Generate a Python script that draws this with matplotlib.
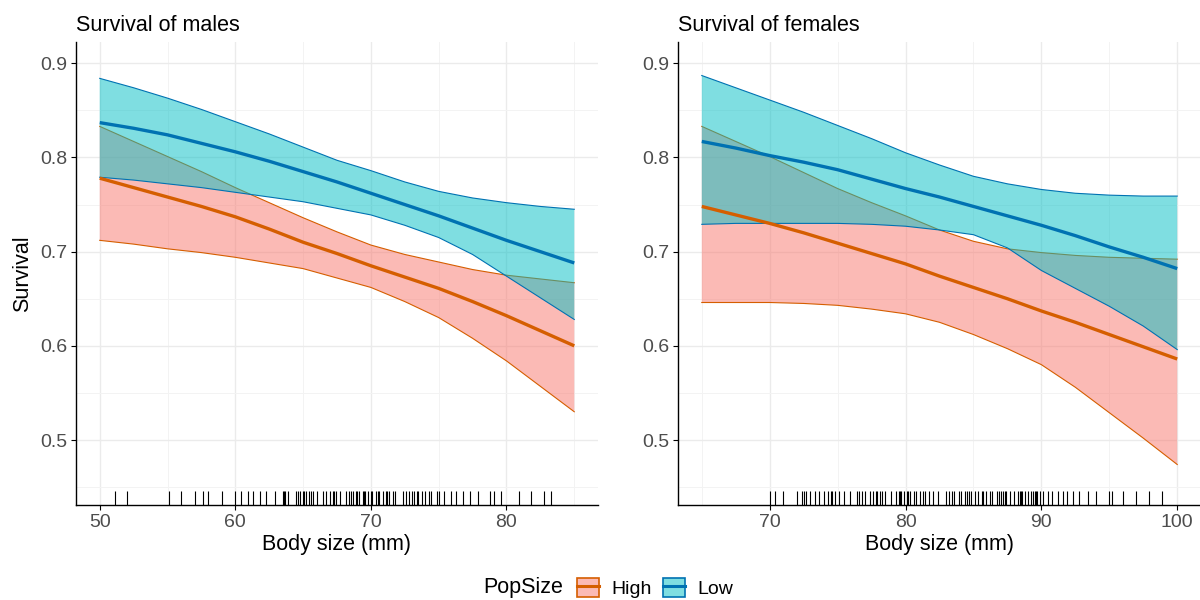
import matplotlib
matplotlib.use("Agg")
import matplotlib.pyplot as plt
from matplotlib.patches import Patch
from matplotlib.lines import Line2D
from matplotlib.legend_handler import HandlerTuple
from matplotlib.ticker import MultipleLocator

plt.rcParams['font.family'] = ['Liberation Sans', 'DejaVu Sans']

# ---- data ----
# males
male_x = [50, 52.5, 55, 57.5, 60, 62.5, 65, 67.5, 70, 72.5, 75, 77.5, 80, 82.5, 85]
male_high_fit = [.778, .768, .758, .748, .737, .724, .710, .698, .685, .673, .661, .647, .632, .616, .600]
male_high_lo = [.712, .708, .703, .699, .694, .688, .682, .672, .662, .647, .630, .608, .584, .557, .530]
male_high_hi = [.833, .817, .801, .785, .768, .752, .736, .721, .707, .697, .689, .681, .675, .671, .667]
male_low_fit = [.837, .831, .824, .815, .806, .796, .785, .774, .762, .750, .738, .725, .712, .700, .688]
male_low_lo = [.779, .776, .772, .768, .763, .758, .753, .746, .739, .728, .715, .697, .674, .651, .628]
male_low_hi = [.884, .874, .863, .851, .838, .825, .811, .797, .786, .774, .764, .757, .752, .748, .745]

# females
fem_x = [65, 67.5, 70, 72.5, 75, 77.5, 80, 82.5, 85, 87.5, 90, 92.5, 95, 97.5, 100]
fem_high_fit = [.748, .739, .730, .720, .709, .698, .687, .674, .662, .650, .637, .625, .612, .599, .586]
fem_high_lo = [.646, .646, .646, .645, .643, .639, .634, .625, .612, .597, .580, .556, .529, .502, .474]
fem_high_hi = [.833, .817, .801, .784, .767, .752, .738, .723, .711, .703, .699, .696, .694, .693, .692]
fem_low_fit = [.817, .810, .802, .795, .787, .777, .767, .758, .748, .738, .728, .717, .705, .694, .682]
fem_low_lo = [.729, .730, .730, .730, .730, .729, .727, .723, .718, .704, .680, .661, .642, .621, .596]
fem_low_hi = [.887, .874, .861, .848, .834, .820, .805, .792, .780, .772, .766, .762, .760, .759, .759]

# body sizes for the rug
male_sizes = [51.1, 52.0, 55.1, 56.0, 57.0, 57.6, 58.0, 59.0, 60.0, 60.4, 60.9, 61.3, 61.8,
              62.3, 62.9, 63.5, 63.6, 63.7, 63.9, 64.5, 64.6, 64.8, 65.0, 65.1, 65.2, 65.4,
              65.6, 65.7, 66.0, 66.5, 66.7, 67.0, 67.2, 67.3, 67.4, 67.7, 68.2, 68.4, 68.5,
              68.7, 68.9, 69.0, 69.1, 69.4, 69.5, 69.6, 69.8, 70.0, 70.1, 70.4, 70.5, 70.6,
              70.9, 71.1, 71.2, 71.3, 71.6, 71.8, 72.4, 72.6, 72.8, 73.0, 73.2, 73.4, 73.5,
              73.8, 74.0, 74.3, 74.4, 74.9, 75.0, 75.4, 75.9, 76.3, 76.8, 77.3, 77.9, 78.8,
              79.1, 79.6, 80.9, 81.8, 82.8, 83.3]
fem_sizes = [70.0, 70.4, 71.0, 72.0, 72.4, 72.5, 72.7, 73.0, 73.3, 73.6, 74.0, 74.3, 74.5,
             74.6, 74.8, 75.1, 75.5, 75.9, 76.4, 76.6, 76.8, 77.0, 77.4, 77.6, 77.8, 77.9,
             78.1, 78.3, 78.5, 78.9, 79.3, 79.5, 79.6, 79.7, 79.9, 80.1, 80.2, 80.3, 80.6,
             80.8, 81.1, 81.3, 81.4, 81.7, 82.0, 82.4, 83.0, 83.2, 83.4, 83.6, 83.9, 84.1,
             84.4, 84.5, 84.7, 84.8, 85.1, 85.3, 85.6, 85.7, 85.9, 86.2, 86.4, 86.7, 86.9,
             87.0, 87.2, 87.3, 87.4, 87.7, 88.0, 88.3, 88.4, 88.5, 88.6, 88.8, 89.0, 89.2,
             89.4, 89.5, 89.6, 89.7, 89.9, 90.1, 90.5, 90.8, 91.2, 91.6, 91.9, 92.3, 92.8,
             93.4, 94.0, 95.0, 95.2, 96.0, 97.0, 97.9, 98.9]

groups = ['High', 'Low']
fill_cols = {'High': '#F8766D', 'Low': '#00BFC4'}
line_cols = {'High': '#D55E00', 'Low': '#0072B2'}

fig = plt.figure(figsize=(12, 6), dpi=100)
ax1 = fig.add_axes([76 / 1200, 1 - 505 / 600, 522 / 1200, 463 / 600])
ax2 = fig.add_axes([678 / 1200, 1 - 505 / 600, 523 / 1200, 463 / 600])


def panel(ax, x, fits, sizes, title, xlim, xmajor):
    for g in groups:
        fit, lo, hi = fits[g]
        ax.fill_between(x, lo, hi, facecolor=fill_cols[g], alpha=0.5, lw=0, zorder=2)
        ax.plot(x, lo, color=line_cols[g], lw=0.8, zorder=2)
        ax.plot(x, hi, color=line_cols[g], lw=0.8, zorder=2)
    for g in groups:
        ax.plot(x, fits[g][0], color=line_cols[g], lw=2.4, zorder=3, solid_capstyle='butt')
    ax.vlines(sizes, 0, 0.03, transform=ax.get_xaxis_transform(), color='black', lw=0.8, zorder=4)

    ax.set_xlim(*xlim)
    ax.set_ylim(0.431, 0.9226)
    ax.xaxis.set_major_locator(MultipleLocator(10))
    ax.xaxis.set_minor_locator(MultipleLocator(5))
    ax.yaxis.set_major_locator(MultipleLocator(0.1))
    ax.yaxis.set_minor_locator(MultipleLocator(0.05))
    ax.set_xticks(xmajor)
    ax.grid(which='major', color='#EBEBEB', lw=1.0)
    ax.grid(which='minor', color='#F3F3F3', lw=0.7)
    ax.set_axisbelow(True)
    for s in ['top', 'right']:
        ax.spines[s].set_visible(False)
    for s in ['left', 'bottom']:
        ax.spines[s].set_color('black')
        ax.spines[s].set_linewidth(1.0)
    ax.tick_params(which='major', length=3.5, width=0.8, colors='black',
                   labelcolor='#4D4D4D', labelsize=14, pad=3)
    ax.tick_params(which='minor', length=0)
    ax.set_title(title, loc='left', fontsize=15.5, pad=8)
    ax.set_xlabel('Body size (mm)', fontsize=15.5, labelpad=2)


panel(ax1, male_x,
      {'High': (male_high_fit, male_high_lo, male_high_hi),
       'Low': (male_low_fit, male_low_lo, male_low_hi)},
      male_sizes, 'Survival of males', (48.25, 86.75), [50, 60, 70, 80])
panel(ax2, fem_x,
      {'High': (fem_high_fit, fem_high_lo, fem_high_hi),
       'Low': (fem_low_fit, fem_low_lo, fem_low_hi)},
      fem_sizes, 'Survival of females', (63.25, 101.75), [70, 80, 90, 100])
ax1.set_ylabel('Survival', fontsize=15.5, labelpad=5)

# legend at the bottom
handles = []
for g in groups:
    handles.append((Patch(facecolor=fill_cols[g], alpha=0.5, edgecolor='none'),
                    Patch(facecolor='none', edgecolor=line_cols[g], lw=1.2),
                    Line2D([], [], color=line_cols[g], lw=2.2)))
fig.text(483 / 1200, 1 - 588 / 600, 'PopSize', fontsize=15.5, va='center', ha='left')
fig.legend(handles, groups, handler_map={tuple: HandlerTuple(ndivide=1)},
           loc='center left', bbox_to_anchor=(577 / 1200, 1 - 588 / 600), ncol=2,
           frameon=False, fontsize=14, handlelength=1.13, handleheight=1.13,
           handletextpad=0.65, columnspacing=0.55, borderpad=0, borderaxespad=0)

fig.savefig('out.png', dpi=100)
